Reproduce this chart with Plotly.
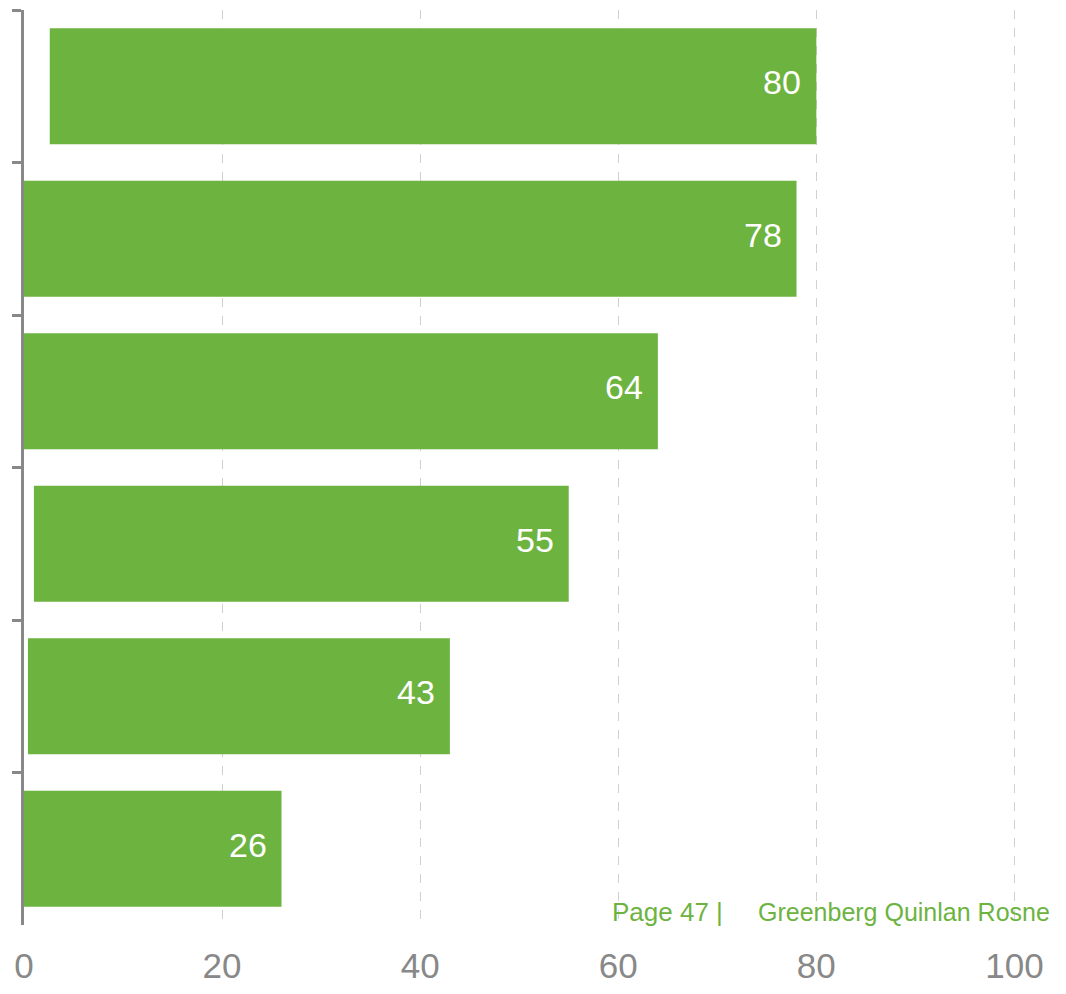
import plotly.graph_objects as go

categories = ["Item 1", "Item 2", "Item 3", "Item 4", "Item 5", "Item 6"]
bar_ends = [80, 78, 64, 55, 43, 26]
bar_starts = [2.6, 0, 0, 1.0, 0.4, 0]
labels = ["80", "78", "64", "55", "43", "26"]
x_ticks = [0, 20, 40, 60, 80, 100]

GREEN = "#6db33f"
GREY = "#888888"
FONT = "Liberation Sans, Arial, sans-serif"

lengths = [e - s for e, s in zip(bar_ends, bar_starts)]

fig = go.Figure()
fig.add_trace(go.Bar(
    y=categories, x=lengths, base=bar_starts, orientation="h",
    marker=dict(color=GREEN, line=dict(width=0)),
    width=0.76, hoverinfo="skip", showlegend=False,
))

for c, e, t in zip(categories, bar_ends, labels):
    fig.add_annotation(x=e, y=c, text=t, showarrow=False, xanchor="right",
                       xshift=-13, yshift=4,
                       font=dict(family=FONT, size=34, color="white"))

fig.add_annotation(x=59.2, y=0.014, xref="x", yref="paper", yanchor="middle",
                   text="Page 47 |", showarrow=False, xanchor="left",
                   font=dict(family=FONT, size=26, color=GREEN))
fig.add_annotation(x=73.9, y=0.014, xref="x", yref="paper", yanchor="middle",
                   text="Greenberg Quinlan Rosne", showarrow=False, xanchor="left",
                   font=dict(family=FONT, size=25, color=GREEN))

fig.update_layout(
    width=1050, height=978,
    margin=dict(l=16, r=0, t=2, b=61),
    paper_bgcolor="white", plot_bgcolor="white",
    font=dict(family=FONT),
)
fig.update_xaxes(
    range=[0, 104.4], tickvals=x_ticks, ticktext=[str(v) for v in x_ticks],
    showgrid=True, gridcolor="#d0d0d0", griddash="dash", gridwidth=1,
    zeroline=False, showline=False, ticks="", automargin=False,
    ticklabelstandoff=17,
    tickfont=dict(family=FONT, size=35, color=GREY),
)
fig.update_yaxes(
    categoryorder="array", categoryarray=categories, autorange=False,
    range=[5.5, -0.5], showticklabels=False, tickson="boundaries",
    ticks="outside", ticklen=9, tickwidth=2.5, tickcolor=GREY, automargin=False,
    showline=True, linecolor=GREY, linewidth=2.5, showgrid=False, zeroline=False,
)

fig.write_html("out.html")
